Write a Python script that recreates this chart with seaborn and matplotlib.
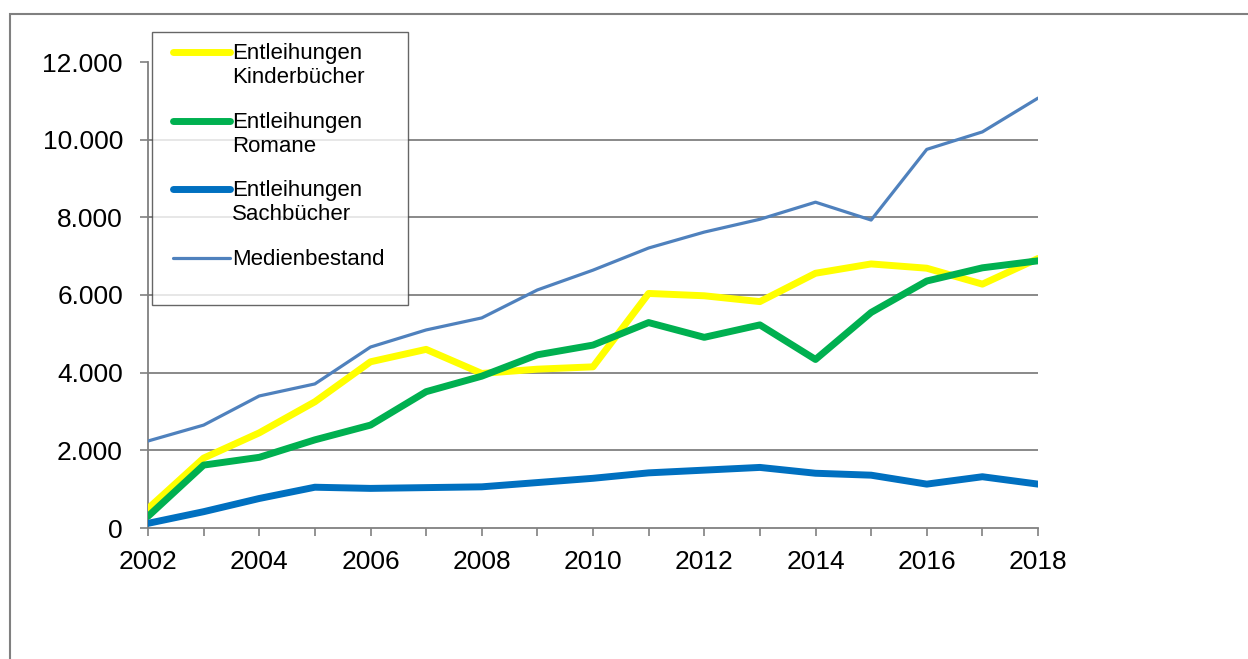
import matplotlib
matplotlib.use("Agg")
import matplotlib.pyplot as plt
import matplotlib.ticker as mticker
from matplotlib.patches import Rectangle
from matplotlib.legend_handler import HandlerLine2D
import seaborn as sns
import pandas as pd

years = list(range(2002, 2019))
kinderbuecher = [500, 1800, 2450, 3250, 4280, 4600, 3980, 4090, 4150, 6040, 5980, 5830, 6560, 6800, 6690, 6280, 6940]
romane = [300, 1620, 1820, 2270, 2650, 3510, 3910, 4460, 4710, 5290, 4910, 5230, 4340, 5550, 6360, 6700, 6880]
sachbuecher = [120, 420, 760, 1050, 1020, 1040, 1060, 1170, 1280, 1420, 1490, 1560, 1410, 1360, 1130, 1320, 1130]
medienbestand = [2240, 2650, 3400, 3710, 4660, 5100, 5410, 6130, 6640, 7210, 7620, 7950, 8390, 7930, 9750, 10200, 11070]

labels = ["Entleihungen\nKinderbücher", "Entleihungen\nRomane", "Entleihungen\nSachbücher", "Medienbestand"]
colors = ["#FFFF00", "#00B050", "#0070C0", "#4F81BD"]
widths = [5.0, 5.0, 5.0, 2.3]


class TopLineHandler(HandlerLine2D):
    """Place the legend line at the first text line of a two-line label."""

    def __init__(self, shift, **kw):
        super().__init__(**kw)
        self.shift = shift

    def create_artists(self, legend, orig_handle, xdescent, ydescent, width, height, fontsize, trans):
        artists = super().create_artists(legend, orig_handle, xdescent, ydescent, width, height, fontsize, trans)
        for a in artists:
            if hasattr(a, "get_ydata"):
                a.set_ydata([y + self.shift for y in a.get_ydata()])
        return artists


sns.set_theme(style="white")
plt.rcParams["font.family"] = ["Liberation Sans", "DejaVu Sans"]

fig = plt.figure(figsize=(12.48, 6.59), dpi=100)
fig.patches.append(Rectangle((10 / 1248, -0.1), 1.2, (659 - 14) / 659 + 0.1, transform=fig.transFigure,
                             fill=False, edgecolor="#808080", linewidth=1.5, zorder=0))
ax = fig.add_axes([148 / 1248, 1 - 528 / 659, (1038 - 148) / 1248, (528 - 62) / 659])

series = [kinderbuecher, romane, sachbuecher, medienbestand]
for vals, lab, col, lw in zip(series, labels, colors, widths):
    df = pd.DataFrame({"Jahr": years, "Wert": vals})
    sns.lineplot(data=df, x="Jahr", y="Wert", ax=ax, color=col, linewidth=lw, label=lab, zorder=3)

ax.set_xlim(2002, 2018)
ax.set_ylim(0, 12000)
ax.set_xticks(range(2002, 2019, 2))
ax.set_xticks(range(2002, 2019, 1), minor=True)
ax.set_yticks(range(0, 12001, 2000))
ax.yaxis.set_major_formatter(mticker.FuncFormatter(lambda v, p: f"{int(v):,}".replace(",", ".")))
ax.set_xlabel("")
ax.set_ylabel("")

for s in ["top", "right"]:
    ax.spines[s].set_visible(False)
for s in ["left", "bottom"]:
    ax.spines[s].set_color("#808080")
    ax.spines[s].set_linewidth(1.3)

ax.yaxis.grid(True, color="#808080", linewidth=1.3)
ax.get_ygridlines()[-1].set_visible(False)
ax.get_ygridlines()[0].set_visible(False)
ax.xaxis.grid(False)

ax.tick_params(axis="y", which="major", direction="out", length=6, width=1.2, color="#808080",
               left=True, labelsize=19, pad=12, labelcolor="black")
ax.tick_params(axis="x", which="both", direction="out", length=6, width=1.2, color="#808080",
               bottom=True, labelsize=19, pad=10, labelcolor="black")

handles, labs = ax.get_legend_handles_labels()
labs = [l if "\n" in l else l + "\n " for l in labs]
leg = ax.legend(handles, labs, loc="upper left",
                bbox_to_anchor=(4 / 890, 1 + 30 / 466, 256 / 890, 0), mode="expand",
                prop={"family": "Liberation Sans", "size": 16},
                frameon=True, fancybox=False, edgecolor="#404040", handlelength=3.0, labelspacing=1.05,
                borderpad=0.5, handletextpad=0.1, borderaxespad=0,
                handler_map={h: TopLineHandler(10.0, xpad=0.45) for h in handles})
for t in leg.get_texts():
    t.set_color("black")
leg.get_frame().set_linewidth(1.0)
leg.set_zorder(5)

fig.savefig("out.png", dpi=100, facecolor="white")
